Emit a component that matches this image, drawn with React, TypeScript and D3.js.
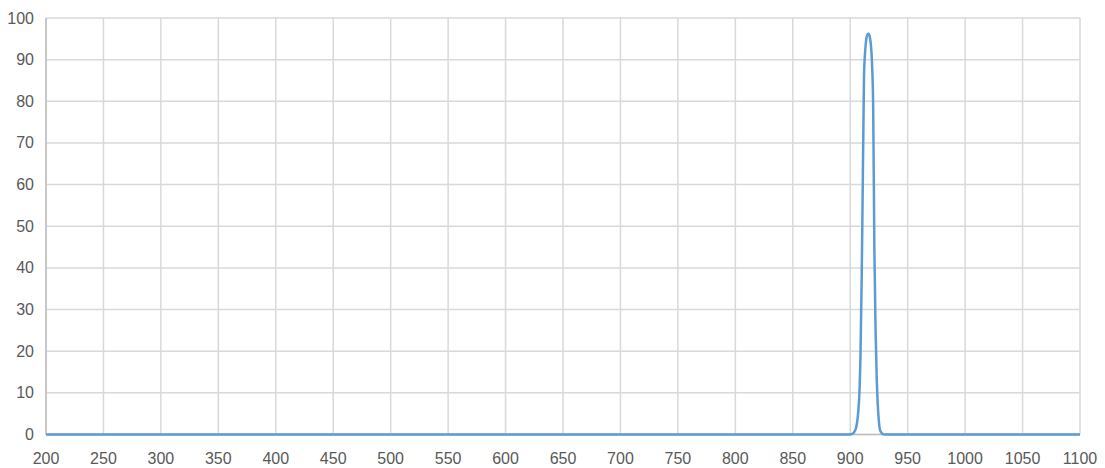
import * as d3 from "d3";

// transmittance spectrum, wavelength (nm) vs value (%)
const wavelengths = [
  200, 900, 901, 903, 905, 906, 907, 908, 909, 910, 911, 912, 913, 914, 915,
  916, 917, 918, 919, 920, 921, 922, 923, 924, 925, 926, 928, 930, 1100,
];
const transmittance = [
  0, 0, 0.1, 0.4, 1.5, 3, 5.5, 10, 20, 38, 62, 86, 92, 95, 96,
  96.2, 95.5, 93.5, 89, 78, 45, 26, 14, 7, 3, 1, 0.2, 0, 0,
];

const xTicks = d3.range(200, 1101, 50);
const yTicks = d3.range(0, 101, 10);

type Pt = { x: number; y: number };

export default function App() {
  const width = 1105;
  const height = 468;
  const margin = { top: 18, right: 25, bottom: 33.5, left: 46 };

  const x = d3
    .scaleLinear()
    .domain([200, 1100])
    .range([margin.left, width - margin.right]);
  const y = d3
    .scaleLinear()
    .domain([0, 100])
    .range([height - margin.bottom, margin.top]);

  const points: Pt[] = wavelengths.map((w, i) => ({ x: w, y: transmittance[i] }));

  const line = d3
    .line<Pt>()
    .x((d) => x(d.x))
    .y((d) => y(d.y))
    .curve(d3.curveMonotoneX);

  const font = "'Liberation Sans', Arial, sans-serif";

  return (
    <svg
      width={width}
      height={height}
      style={{ position: "absolute", left: 0, top: 0, background: "#fff" }}
    >
      <g>
        {yTicks.map((t) => (
          <line
            key={"h" + t}
            x1={x(200)}
            x2={x(1100)}
            y1={y(t)}
            y2={y(t)}
            stroke="#d9d9d9"
            strokeWidth={1.5}
          />
        ))}
        {xTicks.map((t) => (
          <line
            key={"v" + t}
            x1={x(t)}
            x2={x(t)}
            y1={y(0)}
            y2={y(100)}
            stroke="#d9d9d9"
            strokeWidth={1.5}
          />
        ))}
        <line
          x1={x(200)}
          x2={x(200)}
          y1={y(0)}
          y2={y(100)}
          stroke="#bfbfbf"
          strokeWidth={1.5}
        />
        <line
          x1={x(200)}
          x2={x(1100)}
          y1={y(0)}
          y2={y(0)}
          stroke="#bfbfbf"
          strokeWidth={1.5}
        />
      </g>
      <path
        d={line(points) ?? undefined}
        fill="none"
        stroke="#5b9bd5"
        strokeWidth={2.5}
        strokeLinejoin="round"
      />
      <g fontFamily={font} fontSize={16} fill="#595959">
        {yTicks.map((t) => (
          <text
            key={"yl" + t}
            x={34}
            y={y(t)}
            textAnchor="end"
            dominantBaseline="central"
          >
            {t}
          </text>
        ))}
        {xTicks.map((t) => (
          <text key={"xl" + t} x={x(t)} y={463.5} textAnchor="middle">
            {t}
          </text>
        ))}
      </g>
    </svg>
  );
}
